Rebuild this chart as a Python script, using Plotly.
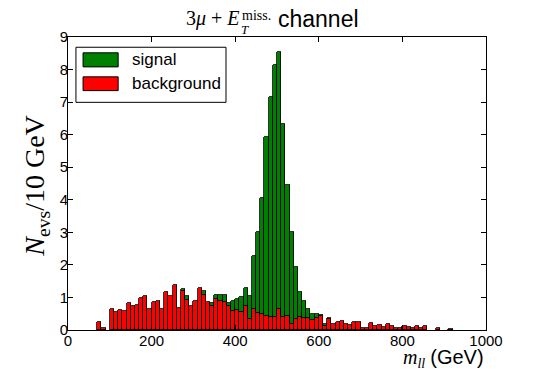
import plotly.graph_objects as go

# bin lower edges (GeV), 10 GeV wide bins
bin_lo = list(range(70, 920, 10))

background = [
    0.24, 0.07, 0.00, 0.63, 0.55, 0.60, 0.58, 0.83, 0.73, 0.77,   # 70-160
    0.98, 1.05, 0.64, 0.85, 0.90, 0.64, 1.18, 1.05, 1.37, 0.67,   # 170-260
    1.19, 0.91, 0.74, 0.90, 1.28, 1.08, 0.86, 0.75, 0.96, 0.90,   # 270-360
    0.85, 0.73, 0.57, 0.62, 0.55, 0.74, 0.33, 0.66, 0.52, 0.49,   # 370-460
    0.44, 0.41, 0.39, 0.66, 0.41, 0.44, 0.19, 0.35, 0.41, 0.38,   # 470-560
    0.37, 0.30, 0.38, 0.43, 0.11, 0.33, 0.18, 0.24, 0.29, 0.18,   # 570-660
    0.16, 0.24, 0.24, 0.06, 0.06, 0.21, 0.11, 0.14, 0.09, 0.18,   # 670-760
    0.13, 0.06, 0.06, 0.13, 0.09, 0.06, 0.13, 0.06, 0.13, 0.00,   # 770-860
    0.00, 0.06, 0.00, 0.00, 0.04,                                 # 870-910
]

signal = [
    0.00, 0.00, 0.00, 0.00, 0.00, 0.00, 0.00, 0.00, 0.00, 0.00,   # 70-160
    0.00, 0.00, 0.00, 0.00, 0.00, 0.00, 0.00, 0.00, 0.00, 0.00,   # 170-260
    0.06, 0.13, 0.00, 0.00, 0.00, 0.12, 0.00, 0.08, 0.10, 0.16,   # 270-360
    0.21, 0.10, 0.31, 0.33, 0.45, 0.55, 0.72, 1.62, 2.48, 3.58,   # 370-460
    5.50, 6.75, 7.76, 7.88, 5.92, 4.01, 2.81, 1.60, 0.75, 0.51,   # 470-560
    0.26, 0.20, 0.12, 0.02, 0.07, 0.05, 0.00, 0.00, 0.00, 0.00,   # 570-660
    0.00, 0.00, 0.00, 0.00, 0.00, 0.00, 0.00, 0.00, 0.00, 0.00,   # 670-760
    0.00, 0.00, 0.00, 0.00, 0.00, 0.00, 0.00, 0.00, 0.00, 0.00,   # 770-860
    0.00, 0.00, 0.00, 0.00, 0.00,                                 # 870-910
]

x_ticks = [0, 200, 400, 600, 800, 1000]
y_ticks = [0, 1, 2, 3, 4, 5, 6, 7, 8, 9]

centers = [b + 5 for b in bin_lo]
bkg_vals = [v if v > 0 else None for v in background]
sig_vals = [v if v > 0 else None for v in signal]

SANS = "Liberation Sans, Arial, sans-serif"
SERIF = "Liberation Serif, Times New Roman, serif"

fig = go.Figure()
fig.add_trace(go.Bar(x=centers, y=bkg_vals, width=10, name="background",
                     marker=dict(color="#ff0000", line=dict(color="black", width=0.8))))
fig.add_trace(go.Bar(x=centers, y=sig_vals, width=10, name="signal",
                     marker=dict(color="#008000", line=dict(color="black", width=0.8))))

axis_common = dict(showline=True, linecolor="black", linewidth=1, mirror="allticks",
                   ticks="inside", ticklen=5, tickcolor="black", showgrid=False,
                   zeroline=False, tickfont=dict(family=SANS, size=15, color="black"))

fig.update_layout(
    width=540, height=378,
    margin=dict(l=60, r=62, t=29, b=56),
    barmode="stack", bargap=0,
    paper_bgcolor="white", plot_bgcolor="white",
    showlegend=False,
    xaxis=dict(range=[0, 1000], tickvals=x_ticks, ticklabelstandoff=-3, **axis_common),
    yaxis=dict(range=[0, 9], tickvals=y_ticks, ticklabelstandoff=-4, **axis_common),
)

# custom legend (matplotlib style)
fig.add_shape(type="rect", xref="paper", yref="paper", x0=0.019, x1=0.378, y0=0.777, y1=0.965,
              line=dict(color="black", width=1), fillcolor="white", layer="above")
fig.add_shape(type="rect", xref="paper", yref="paper", x0=0.036, x1=0.120, y0=0.898, y1=0.946,
              line=dict(color="black", width=1), fillcolor="#008000", layer="above")
fig.add_shape(type="rect", xref="paper", yref="paper", x0=0.036, x1=0.120, y0=0.817, y1=0.864,
              line=dict(color="black", width=1), fillcolor="#ff0000", layer="above")
fig.add_annotation(xref="paper", yref="paper", x=0.148, y=0.922, xanchor="left", yanchor="middle",
                   text="signal", showarrow=False, font=dict(family=SANS, size=17, color="black"))
fig.add_annotation(xref="paper", yref="paper", x=0.148, y=0.841, xanchor="left", yanchor="middle",
                   text="background", showarrow=False, font=dict(family=SANS, size=17, color="black"))

# title pieces
fig.add_annotation(xref="paper", yref="paper", x=0.416, y=1.063, xanchor="right", yanchor="middle",
                   text="3<i>μ</i> + <i>E</i>", showarrow=False, font=dict(family=SERIF, size=20, color="black"))
fig.add_annotation(xref="paper", yref="paper", x=0.412, y=1.074, xanchor="left", yanchor="middle",
                   text="miss.", showarrow=False, font=dict(family=SERIF, size=14, color="black"))
fig.add_annotation(xref="paper", yref="paper", x=0.410, y=1.024, xanchor="left", yanchor="middle",
                   text="<i>T</i>", showarrow=False, font=dict(family=SERIF, size=13, color="black"))
fig.add_annotation(xref="paper", yref="paper", x=0.498, y=1.063, xanchor="left", yanchor="middle",
                   text="channel", showarrow=False, font=dict(family=SANS, size=23, color="black"))

# y-axis title
fig.add_annotation(xref="paper", yref="paper", x=-0.076, y=0.49, xanchor="center", yanchor="middle",
                   textangle=-90, text="<i>N</i><sub>evs</sub>/10 GeV", showarrow=False,
                   font=dict(family=SERIF, size=28, color="black"))
# x-axis title
fig.add_annotation(xref="paper", yref="paper", x=1.0, y=-0.098, xanchor="right", yanchor="middle",
                   text='<i>m</i><sub><i>ll</i></sub> <span style="font-family:Liberation Sans, Arial, sans-serif">(GeV)</span>',
                   showarrow=False, font=dict(family=SERIF, size=20, color="black"))

fig.write_html("out.html")
